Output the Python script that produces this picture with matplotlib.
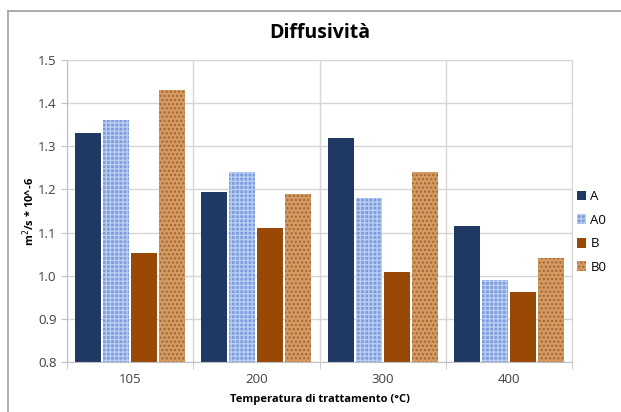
import numpy as np
import matplotlib
matplotlib.use("Agg")
import matplotlib.pyplot as plt
from matplotlib.patches import Rectangle
from matplotlib.lines import Line2D

temps = ["105", "200", "300", "400"]
series = ["A", "A0", "B", "B0"]
val_a = [1.33, 1.195, 1.32, 1.115]
val_a0 = [1.36, 1.24, 1.18, 0.99]
val_b = [1.052, 1.111, 1.009, 0.962]
val_b0 = [1.43, 1.19, 1.24, 1.04]

plt.rcParams['font.family'] = ['Open Sans', 'DejaVu Sans']

fig = plt.figure(figsize=(6.21, 4.12), dpi=100)
fig.patch.set_facecolor("white")

# outer chart border (only left/top visible in reference)
fig.add_artist(Line2D([8/621, 8/621], [0, 1 - 11/412], transform=fig.transFigure,
                      color="#a0a0a0", lw=1.2))
fig.add_artist(Line2D([8/621, 1], [1 - 11/412, 1 - 11/412], transform=fig.transFigure,
                      color="#a0a0a0", lw=1.2))

ax = fig.add_axes([67/621, 50/412, (572-67)/621, (362-60)/412])

x = np.arange(len(temps))
w = 0.205
step = 0.222
colors = ["#1f3864", "#7d9cdc", "#9a4806", "#d49a62"]
hatch_cols = [None, "#b9cdf2", None, "#9e6532"]
hatches = [None, "++++", None, "...."]
values = [val_a, val_a0, val_b, val_b0]

for i, (name, vals) in enumerate(zip(series, values)):
    pos = x + (i - 1.5) * step
    ax.bar(pos, vals, width=w, bottom=0, color=colors[i], label=name, zorder=2)
    if hatches[i]:
        ax.bar(pos, vals, width=w, color="none", edgecolor=hatch_cols[i],
               hatch=hatches[i], linewidth=0, zorder=3)

ax.set_ylim(0.8, 1.5)
ax.set_xlim(-0.5, 3.5)
ax.set_yticks(np.arange(0.8, 1.51, 0.1))
ax.set_yticklabels([f"{v:.1f}" for v in np.arange(0.8, 1.51, 0.1)])
ax.set_xticks(x)
ax.set_xticklabels(temps)
ax.tick_params(axis="x", length=0, labelsize=9.5, pad=8, colors="#404040")
ax.tick_params(axis="y", length=4, color="#c0c0c0", labelsize=9.5, colors="#404040")
ax.set_xticks(np.arange(-0.5, 3.6, 1), minor=True)
ax.tick_params(axis="x", which="minor", length=5, color="#c0c0c0")

ax.yaxis.grid(True, color="#d6d6d6", lw=1, zorder=0)
ax.xaxis.grid(True, which="minor", color="#d6d6d6", lw=1, zorder=0)
ax.set_axisbelow(True)
for s in ["top", "right"]:
    ax.spines[s].set_color("#d6d6d6")
ax.spines["left"].set_color("#c0c0c0")
ax.spines["bottom"].set_color("#c0c0c0")

ax.set_ylabel("m$^2$/s * 10^-6", fontsize=8, fontweight="bold", labelpad=1)
ax.set_xlabel("Temperatura di trattamento (°C)", fontsize=8, fontweight="bold", labelpad=6)

fig.text(320/621, 1 - 33/412, "Diffusività", ha="center", va="center",
         fontsize=14, fontweight="bold")

handles = []
for i, name in enumerate(series):
    handles.append(Rectangle((0, 0), 1, 1, facecolor=colors[i],
                             edgecolor=hatch_cols[i] if hatch_cols[i] else colors[i],
                             hatch=hatches[i], linewidth=0, label=name))
leg = fig.legend(handles=handles, loc="center left", bbox_to_anchor=(570/621, 1 - 232/412),
                 frameon=False, fontsize=9.5, handlelength=0.75, handleheight=0.75,
                 handletextpad=0.3, labelspacing=0.8, borderpad=0)

fig.savefig("out.png", dpi=100)
